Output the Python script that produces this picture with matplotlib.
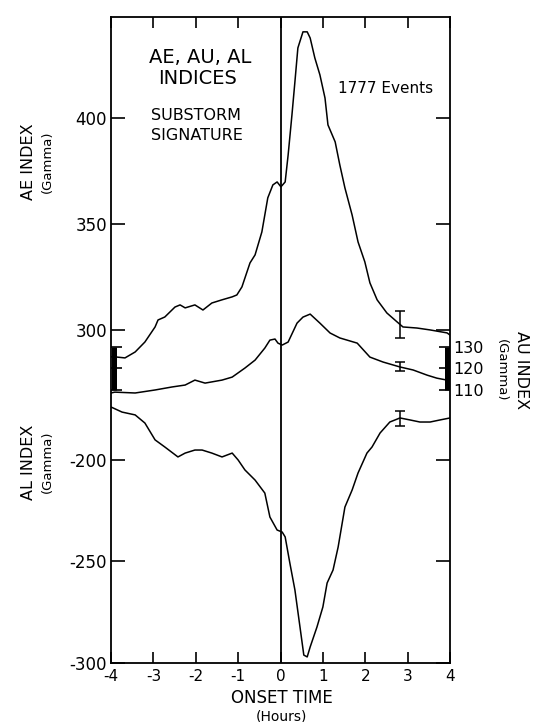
import matplotlib
matplotlib.use("Agg")
import matplotlib.pyplot as plt
import matplotlib.transforms as mtransforms

# ---- averaged substorm signature (hours from onset, gamma) ----
ae_time = [-4.00, -3.91, -3.67, -3.43, -3.20, -2.96, -2.89, -2.73, -2.49, -2.37,
           -2.25, -2.02, -1.83, -1.62, -1.38, -1.14, -1.03, -0.91, -0.72, -0.60,
           -0.44, -0.30, -0.18, -0.08, 0.01, 0.11, 0.18, 0.27, 0.34, 0.41,
           0.53, 0.63, 0.70, 0.81, 0.93, 1.05, 1.12, 1.29, 1.40, 1.52,
           1.69, 1.83, 1.99, 2.11, 2.28, 2.51, 2.75, 2.89, 3.22, 3.53,
           3.93, 4.00]
ae_value = [287.3, 287.3, 286.8, 289.6, 294.3, 301.4, 304.7, 306.1, 310.8, 311.8,
            310.4, 311.8, 309.4, 312.7, 314.2, 315.6, 316.5, 320.3, 331.6, 335.4,
            346.2, 362.3, 368.4, 369.8, 367.5, 369.8, 382.5, 401.4, 417.0, 433.0,
            440.6, 440.6, 437.7, 428.3, 420.3, 409.4, 396.7, 388.7, 377.8, 367.0,
            354.2, 341.5, 332.1, 322.2, 314.2, 308.0, 303.8, 301.4, 300.9, 300.0,
            298.6, 297.6]

au_time = [-4.00, -3.91, -3.43, -2.96, -2.56, -2.25, -2.02, -1.78, -1.38, -1.14,
           -0.84, -0.60, -0.37, -0.25, -0.13, -0.06, 0.04, 0.18, 0.39, 0.53,
           0.70, 0.93, 1.17, 1.40, 1.81, 2.11, 2.42, 2.82, 3.13, 3.46,
           3.69, 3.93, 4.00]
au_value = [108.4, 108.8, 108.4, 109.8, 111.2, 112.1, 114.4, 113.0, 114.4, 115.8,
            120.0, 123.7, 129.3, 133.0, 133.5, 131.6, 130.7, 132.1, 140.9, 143.7,
            145.1, 140.9, 136.3, 134.0, 131.6, 125.1, 122.8, 120.5, 119.1, 116.7,
            115.3, 114.4, 114.2]

al_time = [-4.00, -3.74, -3.43, -3.20, -2.96, -2.73, -2.42, -2.25, -2.02, -1.85,
           -1.62, -1.38, -1.14, -1.00, -0.84, -0.60, -0.37, -0.25, -0.08, 0.04,
           0.11, 0.22, 0.34, 0.46, 0.55, 0.63, 0.70, 0.86, 1.00, 1.10,
           1.24, 1.36, 1.52, 1.69, 1.83, 2.04, 2.16, 2.35, 2.58, 2.82,
           3.06, 3.29, 3.53, 3.76, 4.00]
al_value = [-173.9, -176.4, -177.8, -181.8, -190.1, -193.6, -198.5, -196.6, -195.1, -195.1,
            -196.6, -198.5, -196.6, -200.0, -204.9, -209.9, -216.3, -228.1, -234.5, -235.5,
            -237.9, -250.7, -264.0, -282.3, -296.1, -297.0, -292.1, -282.3, -272.4, -260.6,
            -254.2, -242.9, -223.2, -214.8, -206.4, -196.6, -193.6, -186.7, -181.3, -179.3,
            -180.3, -181.3, -181.3, -180.3, -179.3]

# standard-error bars near +2.8 h
err_time = 2.83
ae_err = (302.6, 6.4)
au_err = (120.6, 2.1)
al_err = (-179.6, 3.6)

hour_ticks = [-4, -3, -2, -1, 0, 1, 2, 3, 4]
ae_ticks = [300, 350, 400]
al_ticks = [-300, -250, -200]
au_ticks = [110, 120, 130]
au_bar = (110, 130)

plt.rcParams["font.family"] = ["DejaVu Sans"]

fig = plt.figure(figsize=(5.40, 7.22), dpi=100)
ax = fig.add_axes([111 / 540, 59 / 722, 339 / 540, 646 / 722])
ax_al = ax.twinx()
ax_au = ax.twinx()

for a in (ax_al, ax_au):
    for s in a.spines.values():
        s.set_visible(False)
    a.patch.set_visible(False)

for s in ax.spines.values():
    s.set_linewidth(1.3)

ax.set_xlim(-4, 4)
ax.set_ylim(142.9, 447.6)
ax_al.set_ylim(-300, 18.2)
ax_au.set_ylim(-17.2, 283.3)

lw = 1.1
ax.plot(ae_time, ae_value, color="black", lw=lw)
ax_au.plot(au_time, au_value, color="black", lw=lw)
ax_al.plot(al_time, al_value, color="black", lw=lw)
ax.axvline(0, color="black", lw=1.3)

ek = dict(fmt="none", ecolor="black", elinewidth=1.1, capsize=3.5, capthick=1.1)
ax.errorbar([err_time], [ae_err[0]], yerr=[ae_err[1]], **ek)
ax_au.errorbar([err_time], [au_err[0]], yerr=[au_err[1]], **ek)
ax_al.errorbar([err_time], [al_err[0]], yerr=[al_err[1]], **ek)

# AU scale bars on both side spines
bt = mtransforms.blended_transform_factory(ax_au.transAxes, ax_au.transData)
for xa in (0.008, 0.992):
    ax_au.plot([xa, xa], list(au_bar), transform=bt, color="black", lw=3.6,
               solid_capstyle="butt", clip_on=False)

# x axis
ax.set_xticks(hour_ticks)
ax.set_xticklabels([("-" if h < 0 else "") + str(abs(h)) for h in hour_ticks])
ax.tick_params(axis="x", direction="in", length=8, width=1.2, top=True,
               labelsize=11, pad=4)

# AE scale
ax.set_yticks(ae_ticks)
ax.set_yticklabels([str(v) for v in ae_ticks])
ax.tick_params(axis="y", direction="in", length=10, width=1.2, left=True,
               right=True, labelleft=True, labelright=False, labelsize=12, pad=3)

# AL scale
ax_al.set_yticks(al_ticks)
ax_al.set_yticklabels(["-" + str(abs(v)) for v in al_ticks])
ax_al.tick_params(axis="y", direction="in", length=10, width=1.2, left=True,
                  right=True, labelleft=True, labelright=False, labelsize=12, pad=3)

# AU scale
ax_au.set_yticks(au_ticks)
ax_au.set_yticklabels([str(v) for v in au_ticks])
ax_au.tick_params(axis="y", direction="in", length=8, width=1.2, left=True,
                  right=True, labelleft=False, labelright=True, labelsize=11.5, pad=2)

# annotations
fig.text(0.370, 0.9197, "AE, AU, AL", ha="center", va="center", fontsize=14)
fig.text(0.365, 0.8906, "INDICES", ha="center", va="center", fontsize=14)
fig.text(0.363, 0.8407, "SUBSTORM", ha="center", va="center", fontsize=11.5)
fig.text(0.365, 0.8130, "SIGNATURE", ha="center", va="center", fontsize=11.5)
fig.text(0.714, 0.8780, "1777 Events", ha="center", va="center", fontsize=11)

fig.text(0.052, 0.776, "AE INDEX", rotation=90, ha="center", va="center", fontsize=11.5)
fig.text(0.087, 0.776, "(Gamma)", rotation=90, ha="center", va="center", fontsize=9.5)
fig.text(0.052, 0.360, "AL INDEX", rotation=90, ha="center", va="center", fontsize=11.5)
fig.text(0.087, 0.360, "(Gamma)", rotation=90, ha="center", va="center", fontsize=9.5)
fig.text(0.965, 0.4875, "AU INDEX", rotation=-90, ha="center", va="center", fontsize=11.5)
fig.text(0.928, 0.4875, "(Gamma)", rotation=-90, ha="center", va="center", fontsize=9.5)

fig.text(0.522, 0.033, "ONSET TIME", ha="center", va="center", fontsize=12)
fig.text(0.522, 0.008, "(Hours)", ha="center", va="center", fontsize=10)

fig.savefig("out.png", dpi=100)
